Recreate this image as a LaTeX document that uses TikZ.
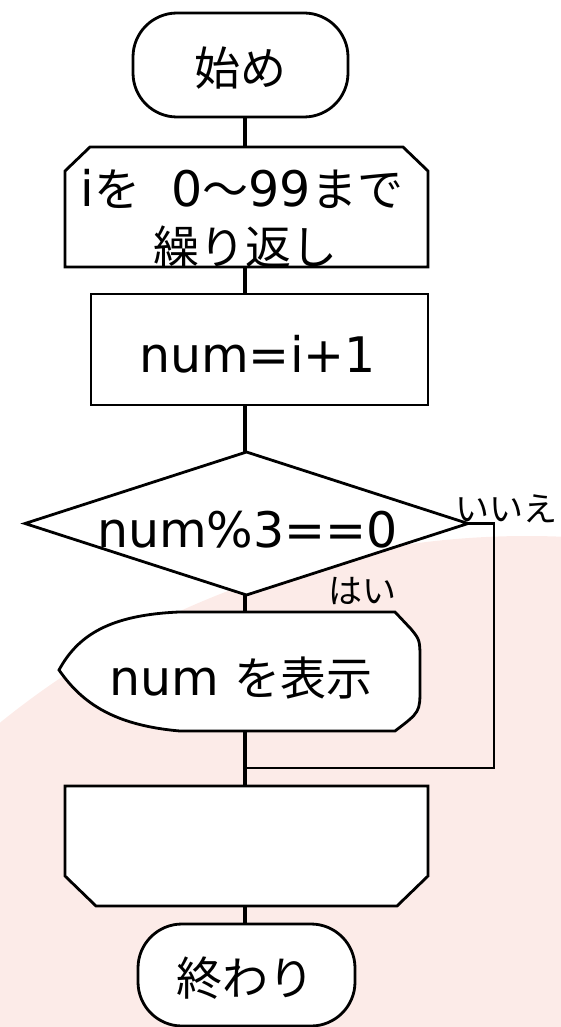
\documentclass[tikz,border=0pt]{standalone}
\usepackage{fontspec}
\setmainfont{DejaVu Sans}
\newfontfamily\jpfont{Noto Sans CJK JP}
\newcommand\jpt[1]{{\jpfont\fontsize{46}{55}\selectfont #1}}
\usetikzlibrary{calc}
\definecolor{bgpink}{RGB}{252,235,232}
\begin{document}
\begin{tikzpicture}[x=1pt,y=-1pt,
  outline/.style={draw=black,line width=2.8pt,fill=white,line join=miter},
  conn/.style={draw=black,line width=3.6pt},
  thinconn/.style={draw=black,line width=2.8pt},
  box/.style={rectangle,inner sep=0pt,outer sep=0pt},
  bigtext/.style={anchor=base,inner sep=0pt,font=\fontsize{49}{58}\selectfont},
  jptext/.style={anchor=base,inner sep=0pt,font=\jpfont\fontsize{46}{55}\selectfont},
  smalltext/.style={anchor=base,inner sep=0pt,font=\jpfont\fontsize{34}{40}\selectfont}]
\useasboundingbox (0,0) rectangle (561,1027);
\begin{scope}
  \clip (0,0) rectangle (561,1027);
  \fill[bgpink] (527,1373) circle[radius=837pt];
\end{scope}
\coordinate (spine) at (245,0);
% shapes
\node[box,outline,rounded corners=44pt,minimum width=215pt,minimum height=104pt] (start) at (240.5,65) {};
\node[box,minimum width=363pt,minimum height=120pt] (loopA) at (246.5,207) {};
\path[outline] ([xshift=25pt]loopA.north west) -- ([xshift=-25pt]loopA.north east)
  -- ([yshift=-24pt]loopA.north east) -- (loopA.south east) -- (loopA.south west)
  -- ([yshift=-24pt]loopA.north west) -- cycle;
\node[box,outline,minimum width=337pt,minimum height=111pt] (proc) at (259.5,349.5) {};
\node[box,minimum width=443pt,minimum height=143pt] (dec) at (246.5,523.5) {};
\path[outline] (dec.north) -- (dec.east) -- (dec.south) -- (dec.west) -- cycle;
\node[box,minimum width=361pt,minimum height=119pt] (disp) at (239.5,671.5) {};
\path[outline] (179,612) -- (395,612) -- (411,629) .. controls (420,640) .. (420,662)
  -- (420,688) .. controls (420,712) .. (395,731) -- (180,731)
  .. controls (110,725) and (80,700) .. (59,670)
  .. controls (78,635) and (110,615) .. (179,612) -- cycle;
\node[box,minimum width=363pt,minimum height=120pt] (loopB) at (246.5,846) {};
\path[outline] (loopB.north west) -- (loopB.north east) -- ([yshift=30pt]loopB.south east)
  -- ([xshift=-31pt]loopB.south east) -- ([xshift=31pt]loopB.south west)
  -- ([yshift=30pt]loopB.south west) -- cycle;
\node[box,outline,rounded corners=44pt,minimum width=217pt,minimum height=102pt] (stop) at (246.5,975) {};
% connectors
\draw[conn] (start.south -| spine) -- (loopA.north -| spine);
\draw[conn] (loopA.south -| spine) -- (proc.north -| spine);
\draw[conn] (proc.south -| spine) -- (dec.north -| spine);
\draw[conn] (dec.south -| spine) -- (disp.north -| spine);
\draw[conn] (disp.south -| spine) -- (loopB.north -| spine);
\draw[conn] (loopB.south -| spine) -- (stop.north -| spine);
\coordinate (noCorner) at (494,523.5);
\coordinate (merge) at (494,768);
\draw[thinconn] (dec.east) -- (noCorner) -- (merge) -- (merge -| spine);
% texts
\node[jptext] (tStart) at (240,86) {始め};
\node[bigtext] (tLoop1) at (242,207) {i\jpt{を}\ \ 0\jpt{〜}99\jpt{まで}};
\node[jptext] (tLoop2) at (245,264) {繰り返し};
\node[bigtext] (tProc) at (257.5,372) {num=i+1};
\node[bigtext] (tDec) at (247.5,547) {num\%3==0};
\node[bigtext] (tDisp) at (241,695) {num \jpt{を表示}};
\node[jptext] (tStop) at (245,995) {終わり};
\node[smalltext] (tNo) at (506,521) {いいえ};
\node[smalltext] (tYes) at (362,603) {はい};
\end{tikzpicture}
\end{document}
